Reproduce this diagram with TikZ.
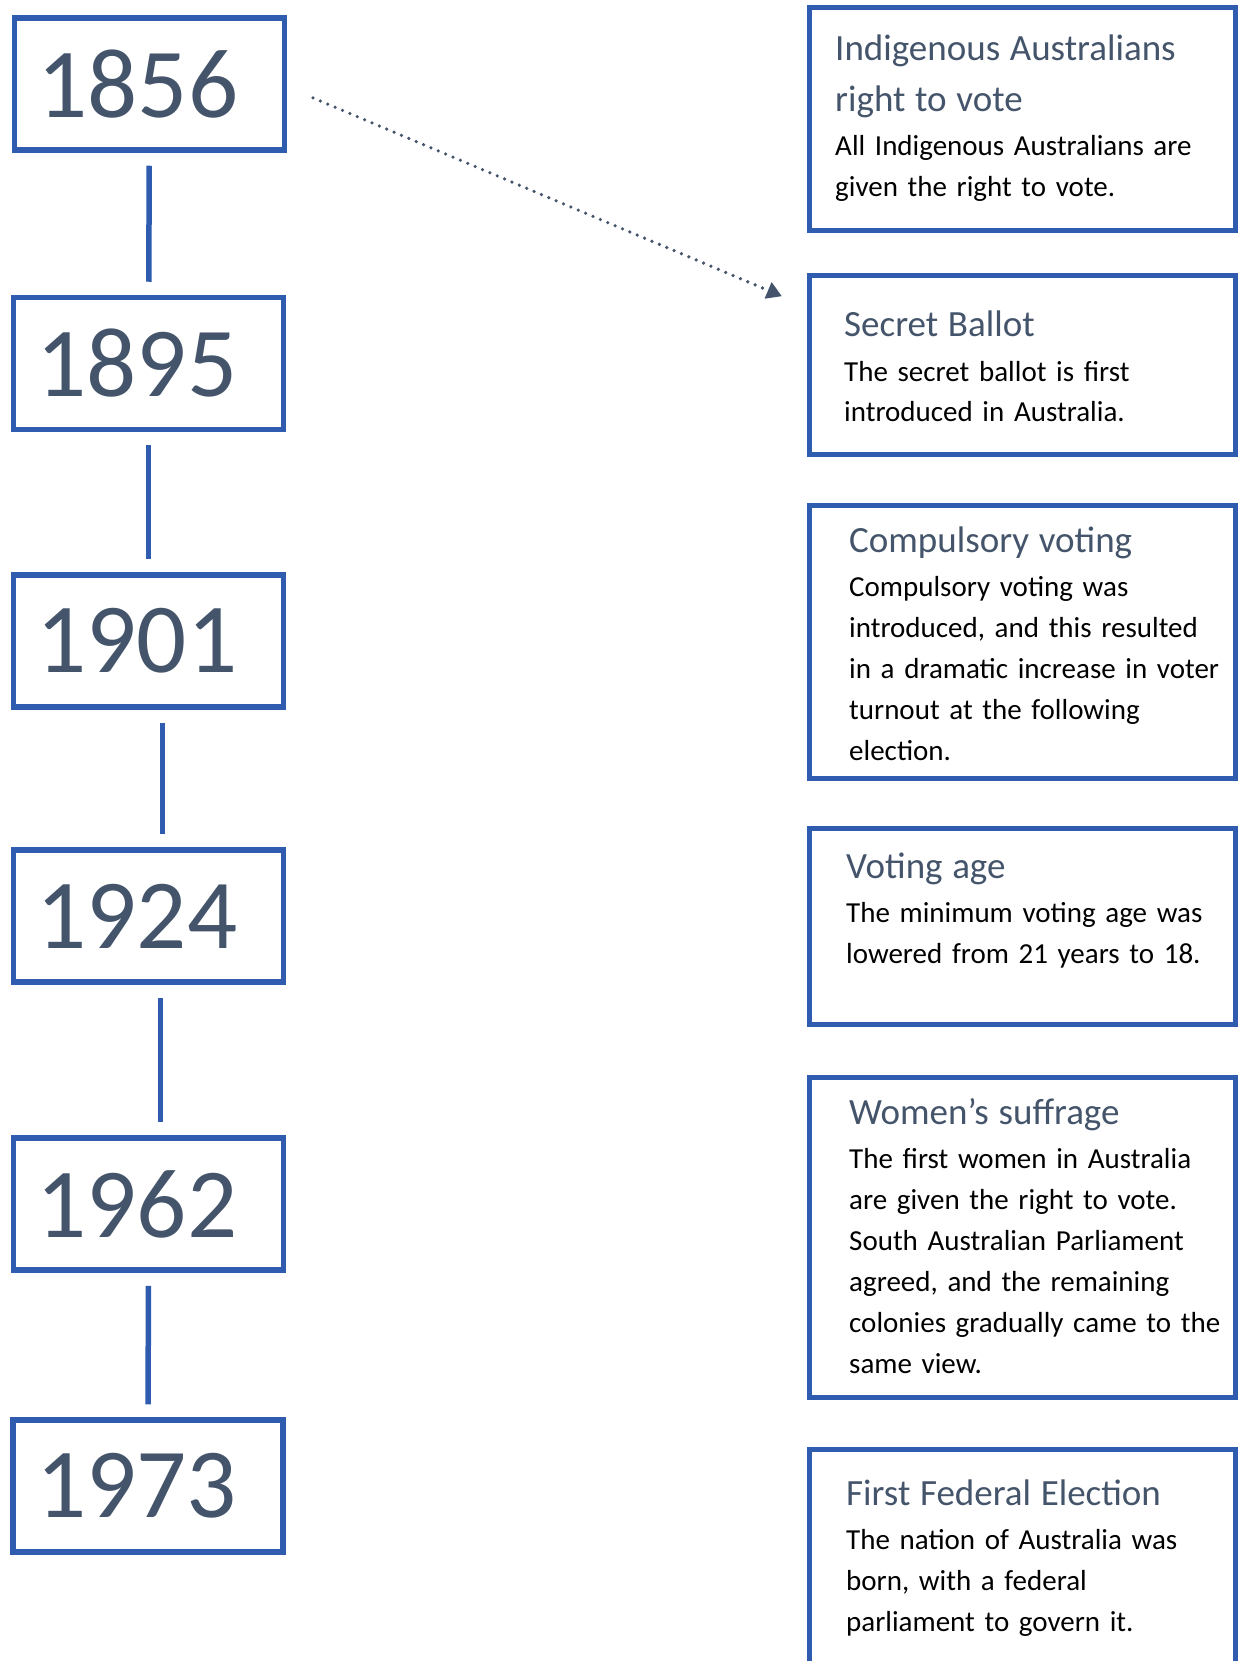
\documentclass[tikz,border=0pt]{standalone}
\usepackage{fontspec}
\setmainfont{Carlito}
\usetikzlibrary{arrows.meta}
\definecolor{penblue}{RGB}{47,92,174}
\definecolor{slate}{RGB}{68,84,106}
\tikzset{ yr/.style = { rectangle % year box
        , draw = penblue
        , line width = 5.5pt
        , minimum width = 270pt
        , minimum height = 132pt
        , text width = 224pt
        , inner xsep = 23pt
        , align = left
        , text = slate
        , font = \fontsize{99}{100}\selectfont
        }
        , ev/.style = { rectangle % event box
        , draw = penblue
        , line width = 5.5pt
        , minimum width = 426pt
        }
        , tx/.style = { anchor = base west % event text
        , inner sep = 0pt
        , text width = 390pt
        , align = left
        , font = \fontsize{29}{41}\selectfont
        }
        }
\newcommand{\evtitle}[1]{{\fontsize{37}{51}\selectfont\color{slate}#1\par}\vspace{3pt}}

\begin{document}
\begin{tikzpicture}[x=1pt, y=-1pt,
        link_style/.style={draw=penblue, line width=5.5pt, shorten <=13pt, shorten >=13pt},
        pointer_style/.style={draw=slate, line width=3.6pt, line cap=round, dash pattern=on 0pt off 8pt,
            shorten <=28pt, shorten >=27pt, -{Triangle[length=15pt,width=17pt]}}]
        \useasboundingbox (0,0) rectangle (1240,1661);

        \node [yr](y1856) at (149.5,84) {1856};
        \node [yr](y1895) at (148.5,363.5) {1895};
        \node [yr](y1901) at (148.5,641) {1901};
        \node [yr](y1924) at (148.5,916) {1924};
        \node [yr](y1962) at (148.5,1204) {1962};
        \node [yr](y1973) at (148,1486) {1973};

        \draw [link_style] (y1856) -- (y1895);
        \draw [link_style] (y1895) -- (y1901);
        \draw [link_style] ([xshift=14pt]y1901.south) -- ([xshift=14pt]y1924.north);
        \draw [link_style] ([xshift=12pt]y1924.south) -- ([xshift=12pt]y1962.north);
        \draw [link_style] (y1962) -- (y1973);

        \node [ev, minimum height=223pt](e1) at (1022.5,119) {};
        \node [ev, minimum height=179pt](e2) at (1022.5,365) {};
        \node [ev, minimum height=273pt](e3) at (1022.5,642) {};
        \node [ev, minimum height=196pt](e4) at (1022.5,926.5) {};
        \node [ev, minimum height=320pt](e5) at (1022.5,1237.5) {};
        \node [ev, minimum height=248pt](e6) at (1022.5,1573.5) {};

        \node [tx](t1) at (835,60.7) {\evtitle{Indigenous Australians\\right to vote}All Indigenous Australians are\\given the right to vote.};
        \node [tx](t2) at (844,337) {\evtitle{Secret Ballot}The secret ballot is first\\introduced in Australia.};
        \node [tx](t3) at (849,552) {\evtitle{Compulsory voting}Compulsory voting was\\introduced, and this resulted\\in a dramatic increase in voter\\turnout at the following\\election.};
        \node [tx](t4) at (846,878) {\evtitle{Voting age}The minimum voting age was\\lowered from 21 years to 18.};
        \node [tx](t5) at (849,1124) {\evtitle{Women’s suffrage}The first women in Australia\\are given the right to vote.\\South Australian Parliament\\agreed, and the remaining\\colonies gradually came to the\\same view.};
        \node [tx](t6) at (846,1505) {\evtitle{First Federal Election}The nation of Australia was\\born, with a federal\\parliament to govern it.};

        \draw [pointer_style] ([yshift=-3pt]y1856.east) -- ([yshift=-34pt]e2.north west);

        \end{tikzpicture}
\end{document}
